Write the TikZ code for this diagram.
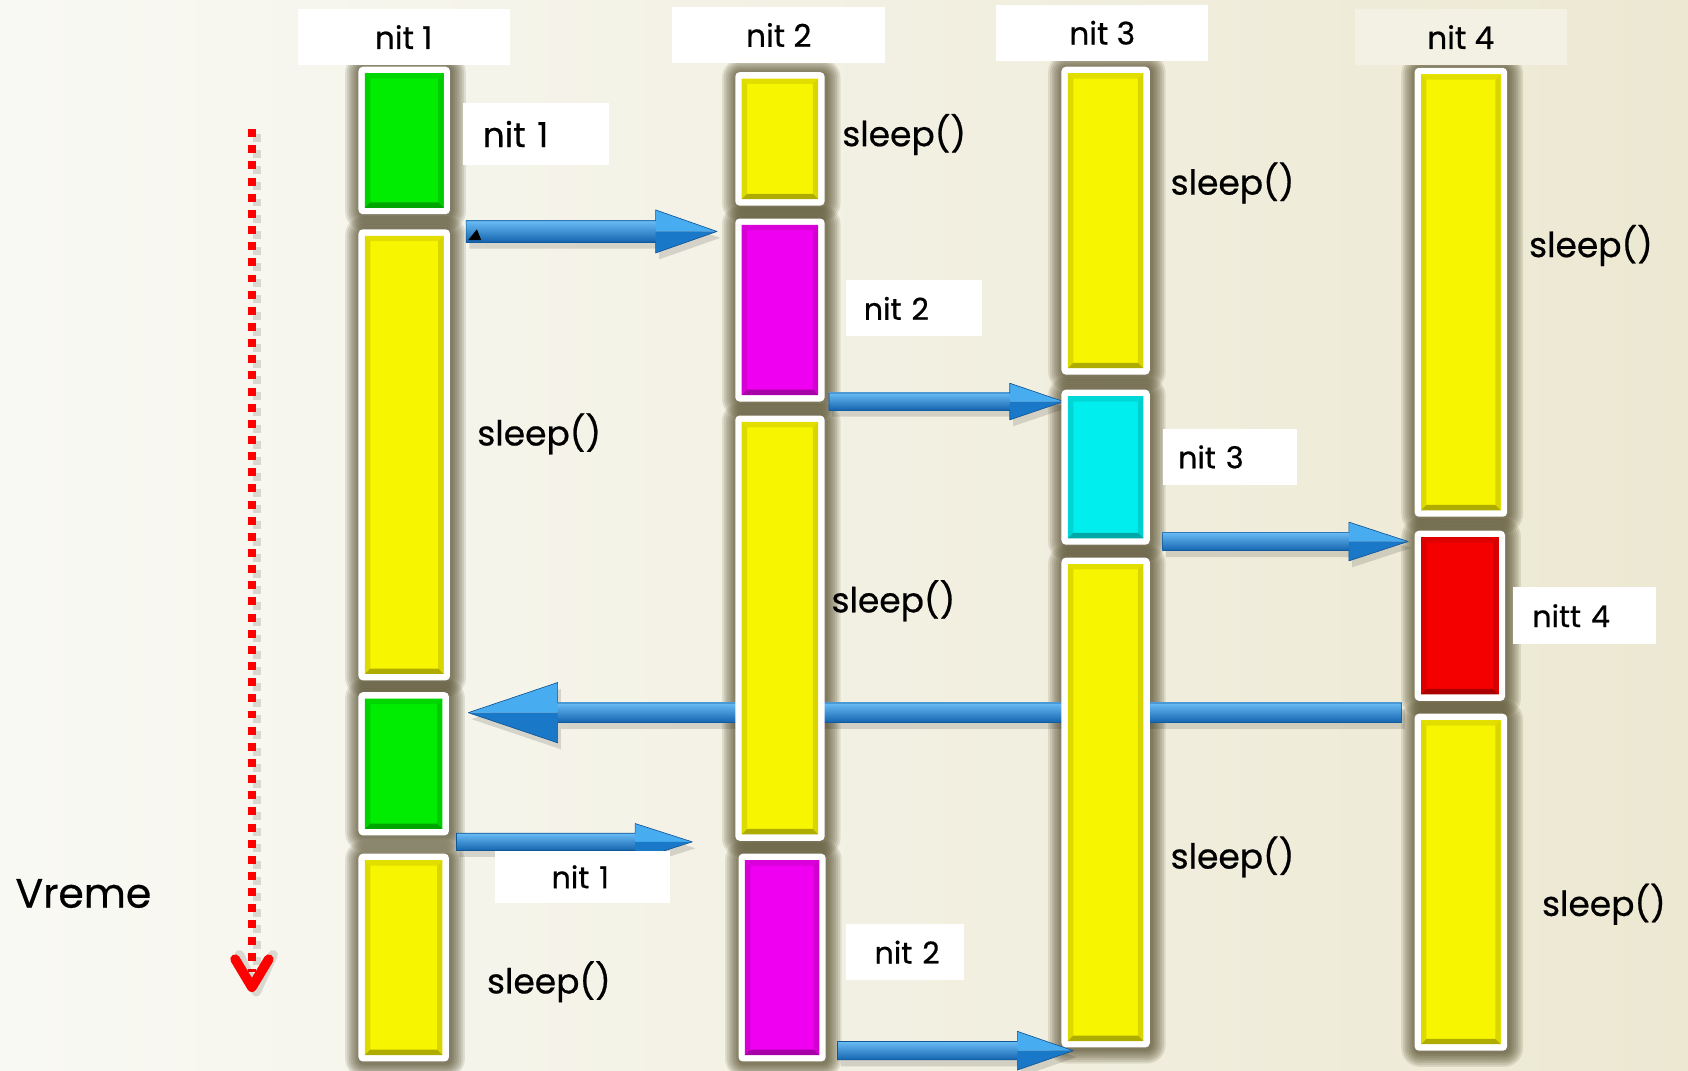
\documentclass[tikz,border=0pt]{standalone}
\usepackage{fontspec}
\setmainfont{Poppins}[FakeBold=0.6]
\pgfdeclarelayer{back}
\pgfdeclarelayer{glow}
\pgfdeclarelayer{mid}
\pgfsetlayers{back,glow,mid,main}

\definecolor{bgL}{RGB}{249,249,244}
\definecolor{bgM}{RGB}{244,243,231}
\definecolor{bgR}{RGB}{236,232,210}
\definecolor{glowc}{RGB}{72,64,30}
\definecolor{tyel}{RGB}{248,245,0}
\definecolor{tgrn}{RGB}{0,236,0}
\definecolor{tmag}{RGB}{240,0,240}
\definecolor{tcyn}{RGB}{0,238,238}
\definecolor{tred}{RGB}{245,0,0}
\definecolor{arL}{RGB}{105,188,245}
\definecolor{arM}{RGB}{40,140,215}
\definecolor{arD}{RGB}{20,100,175}
\definecolor{hdL}{RGB}{72,172,240}
\definecolor{hdD}{RGB}{25,120,200}
\definecolor{headfour}{RGB}{243,241,227}

\tikzset{
  frame/.style={fill=white, rounded corners=2pt, inner sep=0pt, outer sep=0pt},
  slp/.style={anchor=west, inner sep=0pt, font=\fontsize{16}{19}\selectfont},
}

% a thread segment: white frame with glow, bevelled coloured face
% #1 name, #2 x1, #3 y1, #4 x2, #5 y2, #6 colour
\newcommand\tbar[6]{%
  \pgfmathsetmacro\bw{(#4-#2)*0.5}%
  \pgfmathsetmacro\bh{(#5-#3)*0.5}%
  \node[frame, anchor=north west, minimum width=\bw pt, minimum height=\bh pt] (#1) at (#2,#3) {};
  \begin{pgfonlayer}{glow}
    \foreach \k in {1,...,8}{%
      \pgfmathsetmacro\gxa{-\k*0.85+0.6}%
      \pgfmathsetmacro\gya{\k*0.85-0.7}%
      \pgfmathsetmacro\gxb{\k*0.85+0.6}%
      \pgfmathsetmacro\gyb{-\k*0.85-0.7}%
      \pgfmathsetmacro\gr{2+\k*0.85}%
      \fill[glowc, opacity=0.12, rounded corners=\gr pt]
        ([shift={(\gxa pt,\gya pt)}]#1.north west) rectangle ([shift={(\gxb pt,\gyb pt)}]#1.south east);
    }
  \end{pgfonlayer}
  \coordinate (#1-A) at ([shift={(3pt,-3pt)}]#1.north west);
  \coordinate (#1-C) at ([shift={(-3pt,3pt)}]#1.south east);
  \coordinate (#1-B) at (#1-A -| #1-C);
  \coordinate (#1-D) at (#1-A |- #1-C);
  \coordinate (#1-a) at ([shift={(2.5pt,-2.5pt)}]#1-A);
  \coordinate (#1-b) at ([shift={(-2.5pt,-2.5pt)}]#1-B);
  \coordinate (#1-c) at ([shift={(-2.5pt,2.5pt)}]#1-C);
  \coordinate (#1-d) at ([shift={(2.5pt,2.5pt)}]#1-D);
  \fill[#6] (#1-A) rectangle (#1-C);
  \fill[#6!91!black] (#1-A) -- (#1-B) -- (#1-b) -- (#1-a) -- cycle;
  \fill[#6!89!black] (#1-A) -- (#1-a) -- (#1-d) -- (#1-D) -- cycle;
  \fill[#6!87!black] (#1-B) -- (#1-b) -- (#1-c) -- (#1-C) -- cycle;
  \fill[#6!70!black] (#1-D) -- (#1-d) -- (#1-c) -- (#1-C) -- cycle;
}

% column heading box: #1 name, #2..#5 corners, #6 fill, #7 text
\newcommand\headbox[7]{%
  \pgfmathsetmacro\bw{(#4-#2)*0.5}%
  \pgfmathsetmacro\bh{(#5-#3)*0.5}%
  \node[fill=#6, anchor=north west, inner sep=0pt, minimum width=\bw pt, minimum height=\bh pt,
        font=\fontsize{14.5}{16}\selectfont] (#1) at (#2,#3) {#7};
}

% white label box: #1 name, #2..#5 corners, #6 left padding, #7 text, #8 font size
\newcommand\lbox[8]{%
  \pgfmathsetmacro\tw{(#4-#2)*0.5}%
  \pgfmathsetmacro\bh{(#5-#3)*0.5}%
  \pgfmathsetmacro\px{#6*0.5}%
  \node[fill=white, anchor=north west, inner sep=0pt, text width=\tw pt,
        align=left, minimum height=\bh pt, font=\fontsize{#8}{#8}\selectfont] (#1) at (#2,#3)
        {\hspace*{\px pt}#7};
}

% outline of a horizontal block arrow
% #1 tail, #2 tip, #3 shaft half, #4 head half, #5 signed head offset, #6 #7 extra shift
\newcommand\arrowshape[7]{%
  ([shift={(#6,#3+#7)}]#1) -- ([shift={(#5+#6,#3+#7)}]#2) -- ([shift={(#5+#6,#4+#7)}]#2)
  -- ([shift={(#6,#7)}]#2) -- ([shift={(#5+#6,-#4+#7)}]#2) -- ([shift={(#5+#6,-#3+#7)}]#2)
  -- ([shift={(#6,-#3+#7)}]#1) -- cycle}

\newcommand\barrow[5]{%
  \begin{pgfonlayer}{mid}
    \fill[black, opacity=.13] \arrowshape{#1}{#2}{#3}{#4}{#5}{1.5pt}{-3pt};
    \shade[top color=arL, middle color=arM, bottom color=arD]
      ([shift={(0pt,#3)}]#1) rectangle ([shift={(#5,-#3)}]#2);
    \fill[hdL] (#2) -- ([shift={(#5,#4)}]#2) -- ([shift={(#5,0pt)}]#2) -- cycle;
    \fill[hdD] (#2) -- ([shift={(#5,-#4)}]#2) -- ([shift={(#5,0pt)}]#2) -- cycle;
    \draw[arD!85!black, line width=0.3pt, line join=round] \arrowshape{#1}{#2}{#3}{#4}{#5}{0pt}{0pt};
  \end{pgfonlayer}
}

\begin{document}
\begin{tikzpicture}[x=0.5pt, y=-0.5pt]
\useasboundingbox (0,0) rectangle (1568,994);
\begin{pgfonlayer}{back}
  \shade[left color=bgL, middle color=bgM, right color=bgR] (0,0) rectangle (1568,994);
\end{pgfonlayer}

% column headings
\headbox{h1}{276}{8}{473}{60}{white}{nit 1}
\headbox{h2}{624}{6}{822}{58}{white}{nit 2}
\headbox{h3}{925}{4}{1122}{56}{white}{nit 3}
\headbox{h4}{1258}{8}{1455}{60}{headfour}{nit 4}

% thread 1
\tbar{c1a}{333}{62}{418}{199}{tgrn}
\tbar{c1b}{333}{213}{418}{632}{tyel}
\tbar{c1c}{333}{643}{417}{776}{tgrn}
\tbar{c1d}{333}{793}{417}{986}{tyel}
% thread 2
\tbar{c2a}{683}{67}{766}{191}{tyel}
\tbar{c2b}{683}{203}{766}{373}{tmag}
\tbar{c2c}{683}{386}{766}{781}{tyel}
\tbar{c2d}{686}{793}{767}{986}{tmag}
% thread 3
\tbar{c3a}{986}{62}{1068}{348}{tyel}
\tbar{c3b}{986}{362}{1068}{506}{tcyn}
\tbar{c3c}{986}{518}{1068}{973}{tyel}
% thread 4
\tbar{c4a}{1314}{63}{1400}{480}{tyel}
\tbar{c4b}{1314}{493}{1398}{651}{tred}
\tbar{c4c}{1314}{663}{1400}{976}{tyel}

% hand-over arrows
\coordinate (p1s) at (433,215);  \coordinate (p1e) at (666,215);
\coordinate (p2s) at (770,373);  \coordinate (p2e) at (988,373);
\coordinate (p3s) at (1080,503); \coordinate (p3e) at (1308,503);
\coordinate (p4s) at (1302,662); \coordinate (p4e) at (435,662);
\coordinate (p5s) at (424,782);  \coordinate (p5e) at (643,782);
\coordinate (p6s) at (778,976);  \coordinate (p6e) at (997,976);
\barrow{p1s}{p1e}{5pt}{10pt}{-28.5pt}
\barrow{p2s}{p2e}{4pt}{8.5pt}{-25pt}
\barrow{p3s}{p3e}{4.25pt}{9pt}{-27.5pt}
\barrow{p4s}{p4e}{4.5pt}{14pt}{41.5pt}
\barrow{p5s}{p5e}{4pt}{8.5pt}{-26.5pt}
\barrow{p6s}{p6e}{4.25pt}{9pt}{-26pt}
\fill[black] ([shift={(1pt,-4pt)}]p1s) -- ([shift={(7pt,-4pt)}]p1s) -- ([shift={(5pt,1pt)}]p1s) -- cycle;

% labels
\lbox{l1}{430}{95}{565}{153}{18}{nit 1}{16}
\lbox{l2}{785}{260}{912}{312}{17}{nit 2}{14}
\lbox{l3}{1080}{398}{1204}{450}{14}{nit 3}{14}
\lbox{l4}{1405}{545}{1538}{598}{18}{nitt 4}{14}
\lbox{l5}{459}{790}{622}{838}{53}{nit 1}{14}
\lbox{l6}{785}{858}{895}{910}{27}{nit 2}{14}

\node[slp] (s1) at (443,403) {sleep()};
\node[slp] (s2) at (782,125) {sleep()};
\node[slp] (s3) at (1087,170) {sleep()};
\node[slp] (s4) at (1420,228) {sleep()};
\node[slp] (s5) at (772,558) {sleep()};
\node[slp] (s6) at (1087,796) {sleep()};
\node[slp] (s7) at (452,912) {sleep()};
\node[slp] (s8) at (1432,840) {sleep()};

% time axis
\coordinate (t0) at (234,120);
\coordinate (t1) at (234,903);
\coordinate (tE) at (234,917);
\draw[black, opacity=.12, line width=3.7pt, dash pattern=on 3.7pt off 3.8pt]
  ([shift={(2.2pt,-2.2pt)}]t0) -- ([shift={(2.2pt,-2.2pt)}]t1);
\draw[red, line width=3.7pt, dash pattern=on 3.7pt off 3.8pt] (t0) -- (t1);
\draw[black, opacity=.12, line width=4.5pt, line cap=round, line join=round]
  ([shift={(-5.8pt,15pt)}]tE) -- ([shift={(2pt,-2pt)}]tE) -- ([shift={(9.8pt,15pt)}]tE);
\draw[red, line width=4.5pt, line cap=round, line join=round]
  ([shift={(-7.8pt,13pt)}]tE) -- (tE) -- ([shift={(7.8pt,13pt)}]tE);
\node[anchor=west, inner sep=0pt, font=\fontsize{19}{22}\selectfont] (vr) at (14,830) {Vreme};
\end{tikzpicture}
\end{document}
